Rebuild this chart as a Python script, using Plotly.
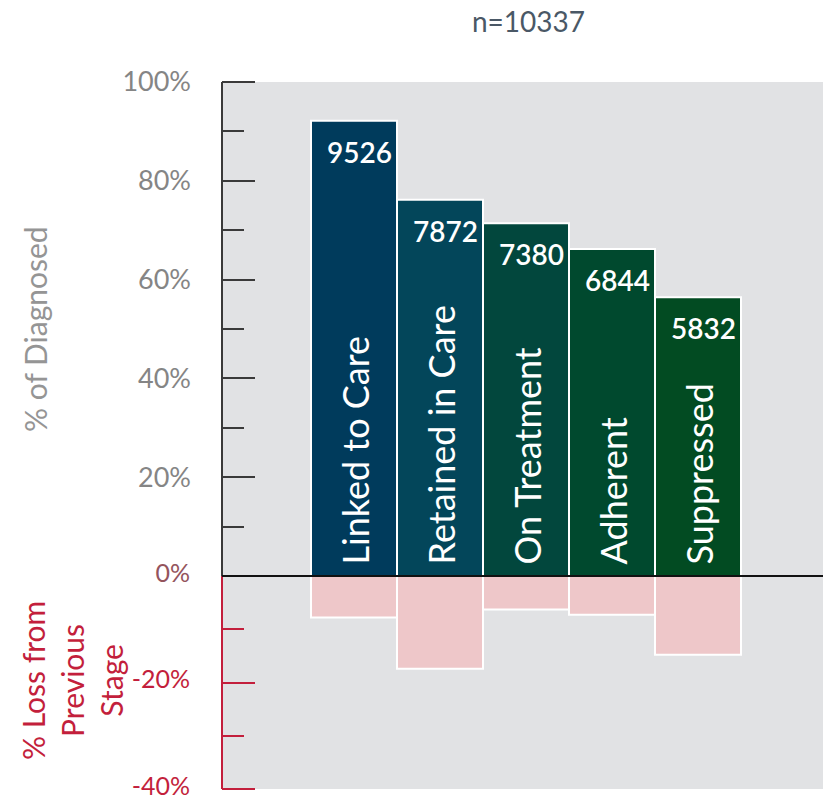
import plotly.graph_objects as go

# Care cascade data
total_diagnosed = 10337
stages = ["Linked to Care", "Retained in Care", "On Treatment", "Adherent", "Suppressed"]
counts = [9526, 7872, 7380, 6844, 5832]
loss_pct = [7.8, 17.4, 6.3, 7.3, 14.8]  # % lost relative to previous stage
bar_colors = ["#003b5c", "#03465a", "#02473d", "#00492e", "#024b22"]

pct_diagnosed = [c / total_diagnosed * 100 for c in counts]
xs = list(range(len(stages)))

FONT = "Lato"
GRAY_BG = "#e1e2e4"
RED = "#c31f3c"
AXIS_GRAY = "#3a3a3a"

W, H = 823, 801
# pixel layout of the two stacked panels
TOP_PX, ZERO_PX, BOTTOM_PX = 82, 576, 789   # y of 100%, 0% and -40%
LEFT_PX = 222
PAD = 7  # extra room beyond the end ticks so plotly keeps them

L, R = LEFT_PX, 0
T = TOP_PX - PAD
B = H - (BOTTOM_PX + PAD)
plot_w = W - L - R
plot_h = H - T - B


def px_x(px):
    return (px - L) / plot_w


def px_y(py):
    return (H - B - py) / plot_h


up_scale = (ZERO_PX - TOP_PX) / 100.0     # px per percent, upper panel
lo_scale = (BOTTOM_PX - ZERO_PX) / 40.0   # px per percent, lower panel

fig = go.Figure()

fig.add_trace(go.Bar(
    x=xs, y=pct_diagnosed, width=1.0,
    marker=dict(color=bar_colors, line=dict(color="white", width=2)),
    yaxis="y", hoverinfo="skip",
))
fig.add_trace(go.Bar(
    x=xs, y=[-v for v in loss_pct], width=1.0,
    marker=dict(color="#eec7c9", line=dict(color="white", width=2)),
    yaxis="y2", hoverinfo="skip",
))

annotations = []
for x, p, c, name in zip(xs, pct_diagnosed, counts, stages):
    annotations.append(dict(
        x=x + 0.47, y=p, xref="x", yref="y", text=f"{c}",
        xanchor="right", yanchor="top", yshift=-12, showarrow=False,
        font=dict(family=FONT, size=28, color="white", weight=600),
    ))
    annotations.append(dict(
        x=x, y=0, xref="x", yref="y", text=name, textangle=-90,
        xanchor="center", yanchor="bottom", yshift=9, showarrow=False,
        font=dict(family=FONT, size=36, color="white"),
    ))

annotations += [
    dict(x=px_x(528), y=px_y(21), xref="paper", yref="paper",
         text="n=10337", showarrow=False, xanchor="center", yanchor="middle",
         font=dict(family=FONT, size=28, color="#4a5866")),
    dict(x=px_x(35), y=px_y(329), xref="paper", yref="paper",
         text="% of Diagnosed", textangle=-90, showarrow=False,
         xanchor="center", yanchor="middle",
         font=dict(family=FONT, size=30, color="#959595")),
    dict(x=px_x(72), y=px_y(681), xref="paper", yref="paper",
         text="% Loss from<br>Previous<br>Stage", textangle=-90, showarrow=False,
         xanchor="center", yanchor="middle",
         font=dict(family=FONT, size=30, color=RED)),
]

fig.update_layout(
    width=W, height=H,
    margin=dict(l=L, r=R, t=T, b=B, pad=0, autoexpand=False),
    paper_bgcolor="white", plot_bgcolor="rgba(0,0,0,0)",
    showlegend=False, barmode="overlay",
    font=dict(family=FONT),
    xaxis=dict(range=[(L - 354) / 86, (W - 354) / 86], visible=False,
               fixedrange=True, automargin=False),
    yaxis=dict(
        domain=[px_y(ZERO_PX + PAD), 1],
        range=[-PAD / up_scale, 100 + PAD / up_scale],
        tickmode="array", tickvals=[0, 20, 40, 60, 80, 100],
        ticktext=["", "20%", "40%", "60%", "80%", "100%"],
        ticks="inside", ticklen=33, tickwidth=2, tickcolor=AXIS_GRAY,
        minor=dict(tickvals=[10, 30, 50, 70, 90], ticks="inside", ticklen=22,
                   tickwidth=2, tickcolor=AXIS_GRAY),
        showline=False, showgrid=False, zeroline=False,
        tickfont=dict(family=FONT, size=27, color="#858585"),
        ticklabelstandoff=30, ticklabeloverflow="allow",
        automargin=False, fixedrange=True,
    ),
    yaxis2=dict(
        domain=[0, px_y(ZERO_PX - PAD)],
        range=[-40 - PAD / lo_scale, PAD / lo_scale],
        tickmode="array", tickvals=[-40, -20, 0],
        ticktext=["-40%", "-20%", "<span style='color:#94545d'>0%</span>"],
        ticks="inside", ticklen=33, tickwidth=2, tickcolor=RED,
        minor=dict(tickvals=[-30, -10], ticks="inside", ticklen=22, tickwidth=2, tickcolor=RED),
        showline=False, showgrid=False, zeroline=False,
        tickfont=dict(family=FONT, size=25, color=RED),
        ticklabelstandoff=31, ticklabelshift=-3, ticklabeloverflow="allow",
        automargin=False, fixedrange=True,
    ),
    shapes=[
        # panel backgrounds
        dict(type="rect", xref="paper", yref="y", x0=0, x1=1, y0=0, y1=100,
             fillcolor=GRAY_BG, line=dict(width=0), layer="below"),
        dict(type="rect", xref="paper", yref="y2", x0=0, x1=1, y0=-40, y1=0,
             fillcolor=GRAY_BG, line=dict(width=0), layer="below"),
        # axis spines
        dict(type="line", xref="paper", yref="y", x0=0, x1=0, y0=0, y1=100,
             line=dict(color=AXIS_GRAY, width=2), layer="above"),
        dict(type="line", xref="paper", yref="y2", x0=0, x1=0, y0=-40, y1=0,
             line=dict(color=RED, width=2), layer="above"),
        # zero baseline
        dict(type="line", xref="paper", yref="y", x0=0, x1=1, y0=0, y1=0,
             line=dict(color="#111111", width=2), layer="above"),
    ],
    annotations=annotations,
)

fig.write_html("out.html")
